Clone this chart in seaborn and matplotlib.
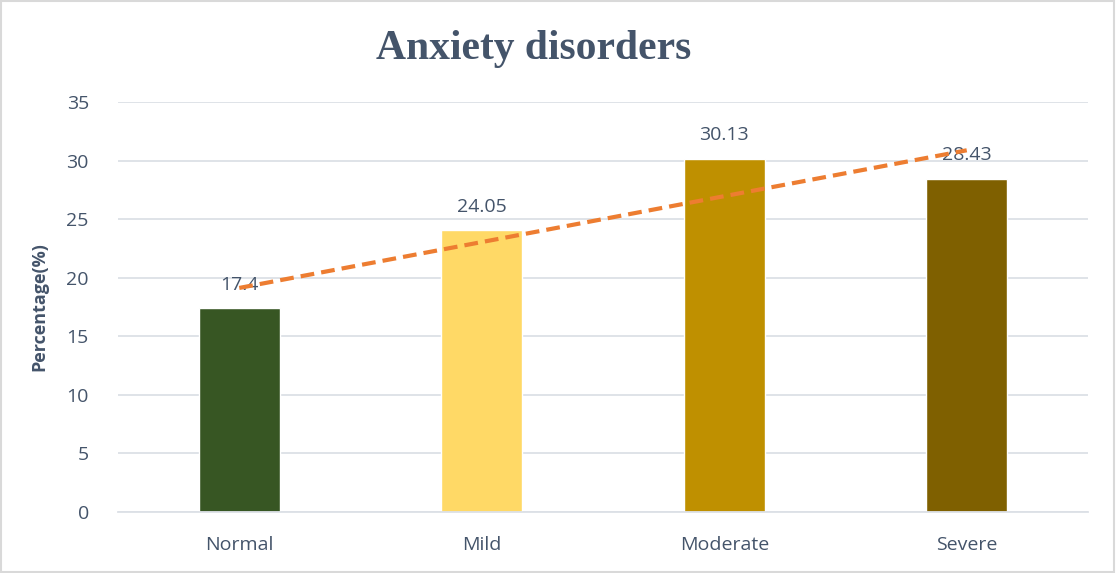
import matplotlib
matplotlib.use("Agg")
import matplotlib.pyplot as plt
import seaborn as sns
import numpy as np
import pandas as pd
from matplotlib.patches import Rectangle

categories = ["Normal", "Mild", "Moderate", "Severe"]
values = [17.4, 24.05, 30.13, 28.43]
value_labels = ["17.4", "24.05", "30.13", "28.43"]
bar_colors = ["#375623", "#FFD966", "#BF9000", "#7F6000"]
title = "Anxiety disorders"
ylabel = "Percentage(%)"

sns.set_theme(style="white")
plt.rcParams['font.family'] = ['Open Sans', 'DejaVu Sans']

text_color = "#44546A"
df = pd.DataFrame({"category": categories, "value": values})

fig = plt.figure(figsize=(11.16, 5.73), dpi=100)
ax = fig.add_axes([118/1116, 1 - 512/573, (1088 - 118)/1116, (512 - 102)/573])

sns.barplot(data=df, x="category", y="value", hue="category", palette=bar_colors,
            width=0.335, legend=False, ax=ax, saturation=1)

ax.set_ylim(0, 35)
ax.set_xlim(-0.5, 3.5)
ax.set_yticks(np.arange(0, 36, 5))
ax.yaxis.grid(True, color="#DCE0E6", linewidth=1.3)
ax.set_axisbelow(True)
for s in ["top", "right", "left"]:
    ax.spines[s].set_visible(False)
ax.spines["bottom"].set_color("#DCE0E6")
ax.spines["bottom"].set_linewidth(1.3)
ax.tick_params(axis="both", length=0, labelsize=14, labelcolor=text_color)
ax.tick_params(axis="y", pad=21)
ax.tick_params(axis="x", pad=17)
ax.set_xlabel("")
ax.set_ylabel(ylabel, fontsize=13, fontweight="bold", color=text_color)
ax.yaxis.set_label_coords(-0.072, 0.5)

for i, (v, lab) in enumerate(zip(values, value_labels)):
    ax.annotate(lab, (i, v), xytext=(0, 17), textcoords="offset points",
                ha="center", va="center", fontsize=14, color=text_color)

# linear trendline
xs = np.arange(len(values))
coef = np.polyfit(xs + 1, values, 1)
trend = np.polyval(coef, xs + 1)
ax.plot(xs, trend, linestyle=(0, (3.3, 1.7)), color="#ED7D31", linewidth=3, zorder=5)

fig.text(0.478, 0.915, title, ha="center", va="center", fontsize=30, fontweight="bold",
         color=text_color, family=["Liberation Serif", "DejaVu Serif"])

fig.patches.append(Rectangle((0.001, 0.001), 0.997, 0.997, transform=fig.transFigure,
                             fill=False, edgecolor="#D9D9D9", linewidth=1.5))

fig.savefig("out.png", dpi=100)
